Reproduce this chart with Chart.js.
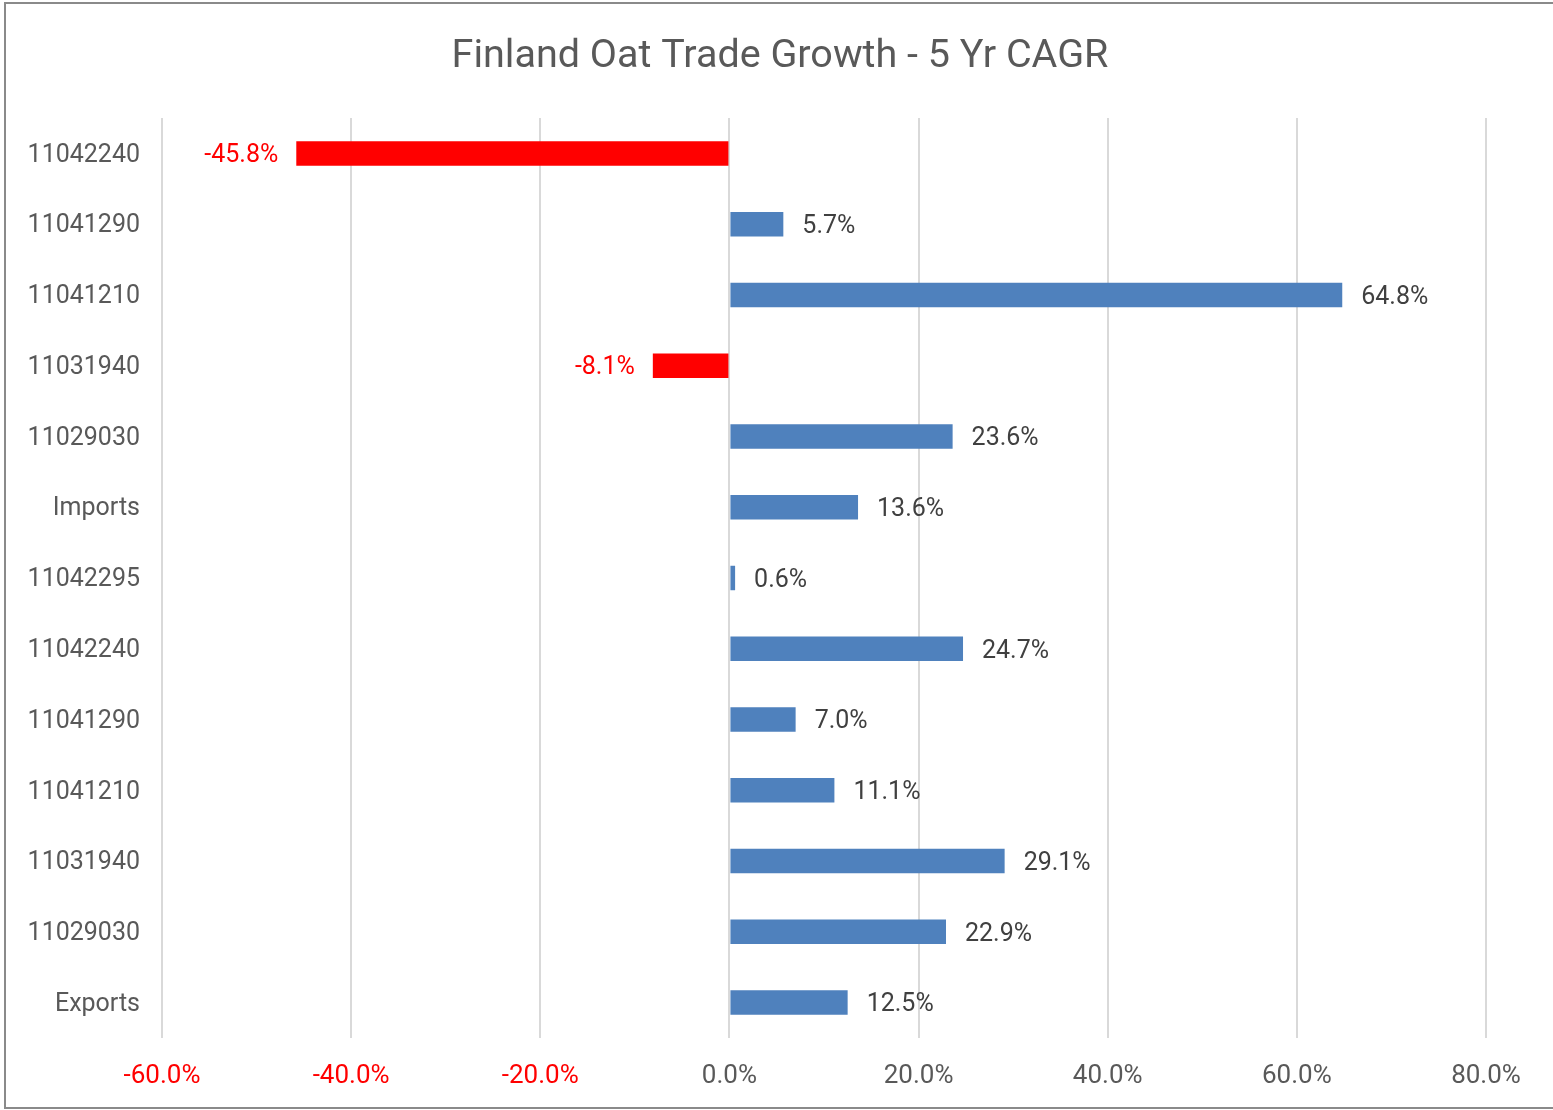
<!DOCTYPE html>
<html>
<head>
<meta charset="utf-8">
<title>Finland Oat Trade Growth - 5 Yr CAGR</title>
<script src="https://cdn.jsdelivr.net/npm/chart.js@4/dist/chart.umd.min.js"></script>
<style>
  html, body { margin: 0; padding: 0; background: #fff; overflow: hidden; }
  #wrap { position: relative; width: 1553px; height: 1110px; }
  #frame { position: absolute; left: 4px; top: 2px; width: 1570px; height: 1107px;
           border: 2px solid #8a8a8a; box-sizing: border-box; pointer-events: none; }
</style>
</head>
<body>
<div id="wrap">
  <canvas id="cagr-chart"></canvas>
  <div id="frame"></div>
</div>
<script>
const categories = ["11042240", "11041290", "11041210", "11031940", "11029030", "Imports",
                    "11042295", "11042240", "11041290", "11041210", "11031940", "11029030", "Exports"];
const cagrValues = [-45.8, 5.7, 64.8, -8.1, 23.6, 13.6, 0.6, 24.7, 7.0, 11.1, 29.1, 22.9, 12.5];
const xTickValues = [-60, -40, -20, 0, 20, 40, 60, 80];

const FONT = "Roboto, 'Liberation Sans', sans-serif";
const GRAY = '#595959';
const RED = '#FF0000';
const BLUE = '#4F81BD';
const TITLE = 'Finland Oat Trade Growth - 5 Yr CAGR';

const fmtPct = v => v.toFixed(1) + '%';

// title is drawn by hand so it can sit centred on the whole frame
const chartTitle = {
    id: 'chartTitle',
    afterDraw(chart) {
        const ctx = chart.ctx;
        ctx.save();
        ctx.font = '39.5px ' + FONT;
        ctx.fillStyle = GRAY;
        ctx.textAlign = 'center';
        ctx.textBaseline = 'middle';
        ctx.fillText(TITLE, 780, 57);
        ctx.restore();
    }
};

// value labels next to each bar (red for negatives, placed left of the bar)
const barLabels = {
    id: 'barLabels',
    afterDatasetsDraw(chart) {
        const ctx = chart.ctx;
        const meta = chart.getDatasetMeta(0);
        ctx.save();
        ctx.font = '25px ' + FONT;
        ctx.textBaseline = 'middle';
        meta.data.forEach((bar, i) => {
            const v = cagrValues[i];
            if (v < 0) {
                ctx.fillStyle = RED;
                ctx.textAlign = 'right';
                ctx.fillText(fmtPct(v), bar.x - 18, bar.y + 2);
            } else {
                ctx.fillStyle = '#404040';
                ctx.textAlign = 'left';
                ctx.fillText(fmtPct(v), bar.x + 19, bar.y + 2.5);
            }
        });
        ctx.restore();
    }
};

const config = {
    type: 'bar',
    data: {
        labels: categories,
        datasets: [{
            data: cagrValues,
            backgroundColor: cagrValues.map(v => v < 0 ? RED : BLUE),
            borderWidth: 0,
            categoryPercentage: 1,
            barPercentage: 0.346,
        }]
    },
    options: {
        indexAxis: 'y',
        responsive: true,
        maintainAspectRatio: false,
        animation: false,
        layout: { padding: { left: 20, right: 67, top: 118, bottom: 18 } },
        plugins: {
            legend: { display: false },
            tooltip: { enabled: false },
            title: { display: false },
        },
        scales: {
            x: {
                min: -60,
                max: 80,
                afterBuildTicks: scale => { scale.ticks = xTickValues.map(v => ({ value: v })); },
                afterFit: scale => { scale.height = 54; },
                grid: { color: '#D9D9D9', lineWidth: 2, drawTicks: false },
                border: { display: false },
                ticks: {
                    padding: 23,
                    font: { family: FONT, size: 26 },
                    color: ctx => ctx.tick.value < 0 ? RED : GRAY,
                    callback: v => fmtPct(v),
                },
            },
            y: {
                afterFit: scale => { scale.width = 162 - 20; },
                grid: { display: false, drawTicks: false },
                border: { display: false },
                ticks: {
                    padding: 22,
                    labelOffset: 2,
                    font: { family: FONT, size: 25 },
                    color: GRAY,
                },
            },
        },
    },
    plugins: [barLabels, chartTitle],
};

new Chart(document.getElementById('cagr-chart'), config);
</script>
</body>
</html>
